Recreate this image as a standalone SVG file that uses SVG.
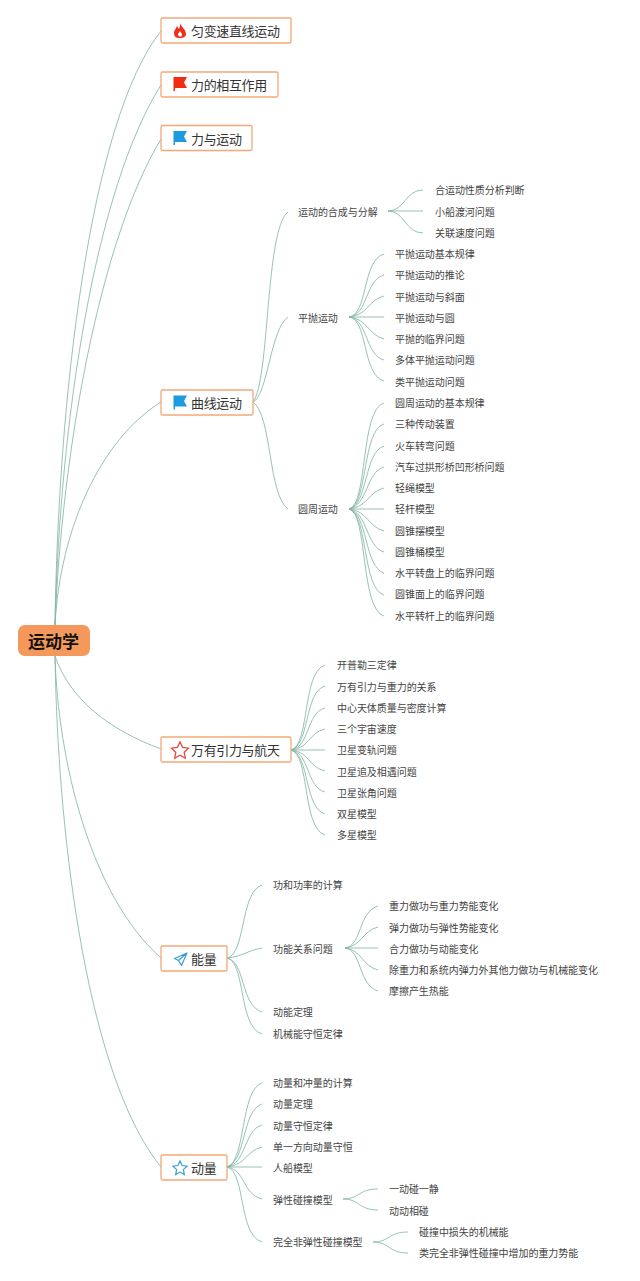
<svg xmlns="http://www.w3.org/2000/svg" width="640" height="1281" viewBox="0 0 640 1281">
<style>
text{font-family:"Noto Sans CJK SC","Liberation Sans",sans-serif;fill:#333;dominant-baseline:central}
.t{font-size:13px;letter-spacing:-.35px}
.s{font-size:10px;letter-spacing:-.05px;fill:#444}
.b{fill:#fff;stroke:#F2A877;stroke-width:1.3}
#connectors path{fill:none;stroke:#84B7A7;stroke-width:.85}
</style>
<rect width="640" height="1281" fill="#fff"/>
<g id="connectors">
<path d="M55 625C58 400 90 120 161 31"/>
<path d="M55 625C60 420 95 190 161 85"/>
<path d="M55 625C62 450 100 240 161 139"/>
<path d="M55 625C60 530 100 440 161 402"/>
<path d="M55 656C70 700 110 730 161 749"/>
<path d="M55 656C58 760 90 895 161 958"/>
<path d="M55 656C58 850 90 1080 161 1167"/>
<path d="M253 402C270 380 265 230 288 212"/>
<path d="M253 402C268 395 270 330 288 317"/>
<path d="M253 402C272 415 268 495 288 509"/>
<path d="M388 211C405 211 405 190 423 190"/>
<path d="M388 211H423"/>
<path d="M388 211C405 211 405 233 423 233"/>
<path d="M349 317C368 315 362 260 384 254"/>
<path d="M349 317C368 315 365 280 384 275"/>
<path d="M349 317C368 315 368 300 384 296"/>
<path d="M349 317H384"/>
<path d="M349 317C368 319 368 335 384 339"/>
<path d="M349 317C368 319 365 355 384 360"/>
<path d="M349 317C368 319 362 375 384 381"/>
<path d="M349 509C368 505 360 410 384 403"/>
<path d="M349 509C368 505 362 430 384 424"/>
<path d="M349 509C368 505 364 452 384 446"/>
<path d="M349 509C368 505 366 472 384 467"/>
<path d="M349 509C368 507 368 492 384 488"/>
<path d="M349 509H384"/>
<path d="M349 509C368 511 368 527 384 531"/>
<path d="M349 509C368 513 366 547 384 552"/>
<path d="M349 509C368 513 364 567 384 573"/>
<path d="M349 509C368 513 362 589 384 595"/>
<path d="M349 509C368 513 360 609 384 616"/>
<path d="M291 750C310 745 302 672 325 665"/>
<path d="M291 750C310 745 304 692 325 686"/>
<path d="M291 750C310 747 306 713 325 708"/>
<path d="M291 750C310 748 308 733 325 729"/>
<path d="M291 750H325"/>
<path d="M291 750C310 752 308 767 325 771"/>
<path d="M291 750C310 753 306 787 325 792"/>
<path d="M291 750C310 755 304 808 325 814"/>
<path d="M291 750C310 755 302 828 325 835"/>
<path d="M227 958C246 954 240 892 262 885"/>
<path d="M227 958C244 956 246 951 262 948"/>
<path d="M227 958C246 962 240 1005 262 1012"/>
<path d="M227 958C246 962 238 1027 262 1034"/>
<path d="M345 948C362 946 358 912 378 906"/>
<path d="M345 948C362 946 362 931 378 927"/>
<path d="M345 948H378"/>
<path d="M345 948C362 950 362 966 378 970"/>
<path d="M345 948C362 950 358 985 378 991"/>
<path d="M227 1167C246 1162 240 1090 262 1083"/>
<path d="M227 1167C246 1162 242 1110 262 1104"/>
<path d="M227 1167C246 1164 244 1130 262 1125"/>
<path d="M227 1167C246 1165 246 1151 262 1147"/>
<path d="M227 1167H262"/>
<path d="M227 1167C246 1170 242 1194 262 1199"/>
<path d="M227 1167C246 1172 238 1235 262 1242"/>
<path d="M343 1199C360 1199 358 1189 378 1189"/>
<path d="M343 1199C360 1199 358 1210 378 1210"/>
<path d="M373 1242C390 1242 388 1232 408 1232"/>
<path d="M373 1242C390 1242 388 1253 408 1253"/>
</g>
<g id="root"><rect x="18" y="625" width="72" height="31" rx="7" fill="#F4995B"/><text x="53.500" y="640" text-anchor="middle" font-size="17" font-weight="700" style="fill:#111">运动学</text></g>
<g id="n1"><rect class="b" x="161" y="18" width="130" height="25" rx="1.500"/><path d="M180 23C181 27 186 29 186 34C186 37 183 38 180 38C176 38 174 37 174 33C174 30 176 29 177 26C178 27 178 28 179 29C180 27 180 25 180 23ZM180 31C179 33 178 33 178 35C179 37 182 37 182 35C182 33 181 33 180 31Z" fill="#EE2E1B" fill-rule="evenodd"/><text class="t" x="191" y="30.500">匀变速直线运动</text></g>
<g id="n2"><rect class="b" x="161" y="72" width="117" height="25" rx="1.500"/><path d="M173.500 77H187L184 82.500L187 88H175V91H173.500Z" fill="#F02D12"/><text class="t" x="191" y="84.500">力的相互作用</text></g>
<g id="n3"><rect class="b" x="161" y="125.500" width="91" height="25" rx="1.500"/><path d="M173.500 131H187L184 136.500L187 142H175V145H173.500Z" fill="#1E9BE0"/><text class="t" x="191" y="138">力与运动</text></g>
<g id="n4"><rect class="b" x="161" y="390" width="92" height="25" rx="1.500"/><path d="M173.500 395.500H187L184 401L187 406.500H175V409.500H173.500Z" fill="#1E9BE0"/><text class="t" x="191" y="402.500">曲线运动</text></g>
<g id="n5"><rect class="b" x="161" y="737" width="130" height="25" rx="1.500"/><path d="M180 742L182.600 747.400L188.500 748.200L184.200 752.300L185.300 758.200L180 755.300L174.700 758.200L175.800 752.300L171.500 748.200L177.400 747.400Z" fill="#fff" stroke="#E8483C" stroke-width="1.300"/><text class="t" x="191" y="749.500">万有引力与航天</text></g>
<g id="n6"><rect class="b" x="161" y="946" width="66" height="25" rx="1.500"/><path d="M187 953L174.500 958.500L178.500 960.500L181.500 965.500L187 953ZM178.500 960.500L187 953" fill="none" stroke="#3D9BD8" stroke-width="1.200" stroke-linejoin="round"/><text class="t" x="191" y="958">能量</text></g>
<g id="n7"><rect class="b" x="161" y="1155" width="66" height="25" rx="1.500"/><path d="M180 1161L182.100 1165.500L187 1166.200L183.400 1169.600L184.300 1174.500L180 1172.100L175.700 1174.500L176.600 1169.600L173 1166.200L177.900 1165.500Z" fill="#fff" stroke="#3D9BD8" stroke-width="1.200"/><text class="t" x="191" y="1167">动量</text></g>
<g id="a1"><text class="s" x="298" y="211">运动的合成与分解</text></g>
<g id="a2"><text class="s" x="298" y="317">平抛运动</text></g>
<g id="a3"><text class="s" x="298" y="508.500">圆周运动</text></g>
<g id="a1a"><text class="s" x="435" y="189.500">合运动性质分析判断</text></g>
<g id="a1b"><text class="s" x="435" y="211">小船渡河问题</text></g>
<g id="a1c"><text class="s" x="435" y="232">关联速度问题</text></g>
<g id="a2a"><text class="s" x="395" y="253.500">平抛运动基本规律</text></g>
<g id="a2b"><text class="s" x="395" y="274.500">平抛运动的推论</text></g>
<g id="a2c"><text class="s" x="395" y="296">平抛运动与斜面</text></g>
<g id="a2d"><text class="s" x="395" y="317">平抛运动与圆</text></g>
<g id="a2e"><text class="s" x="395" y="338.500">平抛的临界问题</text></g>
<g id="a2f"><text class="s" x="395" y="359.500">多体平抛运动问题</text></g>
<g id="a2g"><text class="s" x="395" y="381">类平抛运动问题</text></g>
<g id="a3a"><text class="s" x="395" y="402">圆周运动的基本规律</text></g>
<g id="a3b"><text class="s" x="395" y="423.500">三种传动装置</text></g>
<g id="a3c"><text class="s" x="395" y="445">火车转弯问题</text></g>
<g id="a3d"><text class="s" x="395" y="466">汽车过拱形桥凹形桥问题</text></g>
<g id="a3e"><text class="s" x="395" y="487.500">轻绳模型</text></g>
<g id="a3f"><text class="s" x="395" y="508.500">轻杆模型</text></g>
<g id="a3g"><text class="s" x="395" y="530">圆锥摆模型</text></g>
<g id="a3h"><text class="s" x="395" y="551">圆锥桶模型</text></g>
<g id="a3i"><text class="s" x="395" y="572.500">水平转盘上的临界问题</text></g>
<g id="a3j"><text class="s" x="395" y="593.500">圆锥面上的临界问题</text></g>
<g id="a3k"><text class="s" x="395" y="615">水平转杆上的临界问题</text></g>
<g id="b1"><text class="s" x="337" y="664.500">开普勒三定律</text></g>
<g id="b2"><text class="s" x="337" y="686">万有引力与重力的关系</text></g>
<g id="b3"><text class="s" x="337" y="707">中心天体质量与密度计算</text></g>
<g id="b4"><text class="s" x="337" y="728.500">三个宇宙速度</text></g>
<g id="b5"><text class="s" x="337" y="749.500">卫星变轨问题</text></g>
<g id="b6"><text class="s" x="337" y="771">卫星追及相遇问题</text></g>
<g id="b7"><text class="s" x="337" y="792">卫星张角问题</text></g>
<g id="b8"><text class="s" x="337" y="813.500">双星模型</text></g>
<g id="b9"><text class="s" x="337" y="834.500">多星模型</text></g>
<g id="c1"><text class="s" x="273" y="884.500">功和功率的计算</text></g>
<g id="c2"><text class="s" x="273" y="948">功能关系问题</text></g>
<g id="c3"><text class="s" x="273" y="1011.500">动能定理</text></g>
<g id="c4"><text class="s" x="273" y="1033">机械能守恒定律</text></g>
<g id="c2a"><text class="s" x="389" y="905.500">重力做功与重力势能变化</text></g>
<g id="c2b"><text class="s" x="389" y="927">弹力做功与弹性势能变化</text></g>
<g id="c2c"><text class="s" x="389" y="948">合力做功与动能变化</text></g>
<g id="c2d"><text class="s" x="389" y="969">除重力和系统内弹力外其他力做功与机械能变化</text></g>
<g id="c2e"><text class="s" x="389" y="990.500">摩擦产生热能</text></g>
<g id="d1"><text class="s" x="273" y="1082.500">动量和冲量的计算</text></g>
<g id="d2"><text class="s" x="273" y="1103.500">动量定理</text></g>
<g id="d3"><text class="s" x="273" y="1125">动量守恒定律</text></g>
<g id="d4"><text class="s" x="273" y="1146">单一方向动量守恒</text></g>
<g id="d5"><text class="s" x="273" y="1167.500">人船模型</text></g>
<g id="d6"><text class="s" x="273" y="1199.500">弹性碰撞模型</text></g>
<g id="d7"><text class="s" x="273" y="1241.500">完全非弹性碰撞模型</text></g>
<g id="d6a"><text class="s" x="389" y="1188.500">一动碰一静</text></g>
<g id="d6b"><text class="s" x="389" y="1210">动动相碰</text></g>
<g id="d7a"><text class="s" x="419" y="1231">碰撞中损失的机械能</text></g>
<g id="d7b"><text class="s" x="419" y="1252.500">类完全非弹性碰撞中增加的重力势能</text></g>
</svg>
